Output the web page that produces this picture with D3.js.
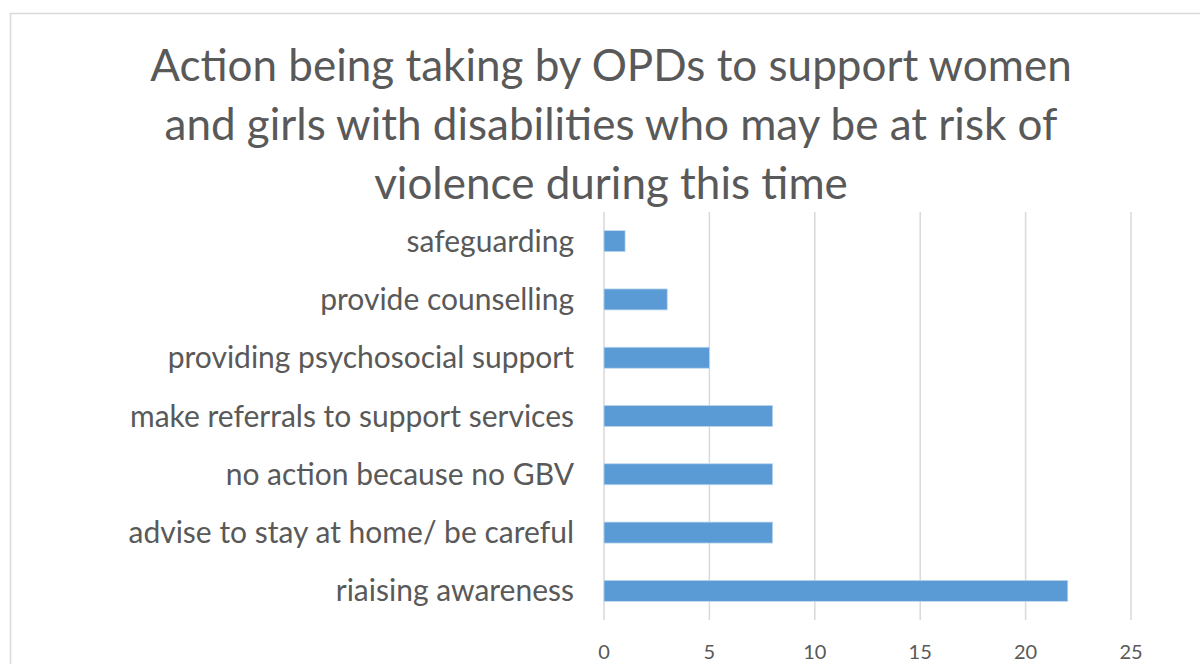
<!DOCTYPE html>
<html>
<head>
<meta charset="utf-8">
<script src="https://cdn.jsdelivr.net/npm/d3@7"></script>
<style>
  html, body { margin: 0; padding: 0; background: #fff; }
  svg { display: block; }
  text { font-family: Lato, "Open Sans", sans-serif; fill: #595959; }
</style>
</head>
<body>
<svg id="chart" width="1200" height="664"></svg>
<script>
// Responses, listed top to bottom
const categories = [
  "safeguarding",
  "provide counselling",
  "providing psychosocial support",
  "make referrals to support services",
  "no action because no GBV",
  "advise to stay at home/ be careful",
  "riaising awareness"
];
const counts = [1, 3, 5, 8, 8, 8, 22];
const xTicks = [0, 5, 10, 15, 20, 25];
const titleLines = [
  "Action being taking by OPDs to support women",
  "and girls with disabilities who may be at risk of",
  "violence during this time"
];

const svg = d3.select("#chart");
const W = 1200, H = 664;
const plot = { left: 604, right: 1131, top: 212, bottom: 620 };

// outer chart frame
svg.append("rect")
  .attr("x", 10.5).attr("y", 13.5)
  .attr("width", W + 20).attr("height", H + 20)
  .attr("fill", "none").attr("stroke", "#D9D9D9").attr("stroke-width", 1.5);

// title
svg.append("g").selectAll("text")
  .data(titleLines).join("text")
  .attr("x", 611)
  .attr("y", (d, i) => 81 + i * 59)
  .attr("text-anchor", "middle")
  .attr("font-size", 44)
  .text(d => d);

const x = d3.scaleLinear().domain([0, 25]).range([plot.left, plot.right]);
const y = d3.scaleBand().domain(categories).range([plot.top, plot.bottom]).paddingInner(0.64).paddingOuter(0.32);

// vertical gridlines
svg.append("g").selectAll("line")
  .data(xTicks).join("line")
  .attr("x1", d => x(d)).attr("x2", d => x(d))
  .attr("y1", plot.top).attr("y2", plot.bottom)
  .attr("stroke", "#D9D9D9").attr("stroke-width", 1.5);

// bars
svg.append("g").selectAll("rect")
  .data(categories.map((c, i) => ({ c, v: counts[i] }))).join("rect")
  .attr("x", x(0))
  .attr("y", d => y(d.c))
  .attr("width", d => x(d.v) - x(0))
  .attr("height", y.bandwidth())
  .attr("fill", "#5B9BD5")
  .attr("stroke", "#BDD7EE").attr("stroke-width", 0.75);

// category labels
svg.append("g").selectAll("text")
  .data(categories).join("text")
  .attr("x", 574)
  .attr("y", d => y(d) + y.bandwidth() / 2)
  .attr("dy", "0.35em")
  .attr("text-anchor", "end")
  .attr("font-size", 30)
  .text(d => d);

// x tick labels
svg.append("g").selectAll("text")
  .data(xTicks).join("text")
  .attr("x", d => x(d))
  .attr("y", 652)
  .attr("dy", "0.35em")
  .attr("text-anchor", "middle")
  .attr("font-size", 20)
  .text(d => d);
</script>
</body>
</html>
